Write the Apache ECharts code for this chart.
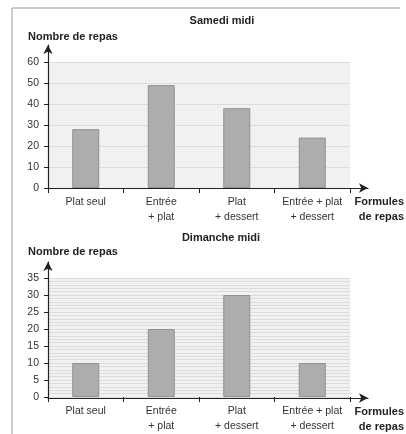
<!DOCTYPE html>
<html>
<head>
<meta charset="utf-8">
<script src="https://cdn.jsdelivr.net/npm/echarts@6/dist/echarts.min.js"></script>
<style>
  html, body { margin: 0; padding: 0; background: #fff; }
  #chart { width: 406px; height: 434px; }
</style>
</head>
<body>
<div id="chart"></div>
<script>
// données
const categories = ['Plat seul', 'Entrée\n+ plat', 'Plat\n+ dessert', 'Entrée + plat\n+ dessert']
const samediValues = [28, 49, 38, 24]
const dimancheValues = [10, 20, 30, 10]

const font = 'Liberation Sans'
const ink = '#222'

// axe "fléché" (grille extérieure, seulement la ligne)
function arrowAxis(gridIndex, name) {
  return {
    gridIndex: gridIndex,
    type: 'value',
    min: 0,
    max: 1,
    name: name || '',
    nameLocation: 'end',
    nameGap: 36,
    nameTextStyle: {
      fontFamily: font, fontWeight: 'bold', fontSize: 11, color: ink,
      align: 'right', verticalAlign: 'top', lineHeight: 15, padding: [6, 0, 0, 0]
    },
    axisLine: { show: true, symbol: ['none', 'arrow'], symbolSize: [7, 9], lineStyle: { color: ink, width: 1.2 } },
    axisTick: { show: false },
    axisLabel: { show: false },
    splitLine: { show: false }
  }
}

function catAxis(gridIndex) {
  return {
    gridIndex: gridIndex,
    type: 'category',
    data: categories,
    axisLine: { show: false },
    axisTick: { show: true, length: 5, lineStyle: { color: ink } },
    axisLabel: { interval: 0, margin: 7, fontFamily: font, fontSize: 10.5, color: '#333', lineHeight: 15 }
  }
}

function valAxis(gridIndex, max, interval, minor) {
  return {
    gridIndex: gridIndex,
    type: 'value',
    min: 0,
    max: max,
    interval: interval,
    axisLine: { show: false },
    axisTick: { show: true, length: 4, lineStyle: { color: ink } },
    axisLabel: { margin: 9, fontFamily: font, fontSize: 10.5, color: '#333' },
    splitLine: { show: true, lineStyle: { color: '#dcdcdc', width: 1 } },
    minorTick: { show: false, splitNumber: 5 },
    minorSplitLine: { show: minor, lineStyle: { color: '#dcdcdc', width: 1 } }
  }
}

const chart = echarts.init(document.getElementById('chart'))
chart.setOption({
  animation: false,
  title: [
    { text: 'Samedi midi', left: 217, top: 10, textAlign: 'center', textStyle: { fontFamily: font, fontSize: 11, fontWeight: 'bold', color: ink } },
    { text: 'Nombre de repas', left: 23, top: 26, textStyle: { fontFamily: font, fontSize: 11, fontWeight: 'bold', color: ink } },
    { text: 'Dimanche midi', left: 216, top: 227, textAlign: 'center', textStyle: { fontFamily: font, fontSize: 11, fontWeight: 'bold', color: ink } },
    { text: 'Nombre de repas', left: 23, top: 241, textStyle: { fontFamily: font, fontSize: 11, fontWeight: 'bold', color: ink } }
  ],
  grid: [
    { left: 48, right: 56, top: 62, bottom: 246, show: true, backgroundColor: '#f1f1f1', borderWidth: 0 },
    { left: 48, right: 38, top: 45, bottom: 246 },
    { left: 48, right: 56, top: 278, bottom: 31, show: true, backgroundColor: '#f1f1f1', borderWidth: 0 },
    { left: 48, right: 38, top: 262, bottom: 31 }
  ],
  xAxis: [
    catAxis(0),
    arrowAxis(1, 'Formules\nde repas'),
    catAxis(2),
    arrowAxis(3, 'Formules\nde repas')
  ],
  yAxis: [
    valAxis(0, 60, 10, false),
    arrowAxis(1),
    valAxis(2, 35, 5, true),
    arrowAxis(3)
  ],
  series: [
    {
      type: 'bar', xAxisIndex: 0, yAxisIndex: 0, data: samediValues, barWidth: 27,
      itemStyle: { color: '#adadad', borderColor: '#909090', borderWidth: 1 }
    },
    {
      type: 'bar', xAxisIndex: 2, yAxisIndex: 2, data: dimancheValues, barWidth: 27,
      itemStyle: { color: '#adadad', borderColor: '#909090', borderWidth: 1 }
    }
  ],
  graphic: [
    { type: 'polyline', shape: { points: [[12, 434], [12, 8], [400, 8]] }, style: { stroke: '#999', fill: null, lineWidth: 1 } }
  ]
})
</script>
</body>
</html>
